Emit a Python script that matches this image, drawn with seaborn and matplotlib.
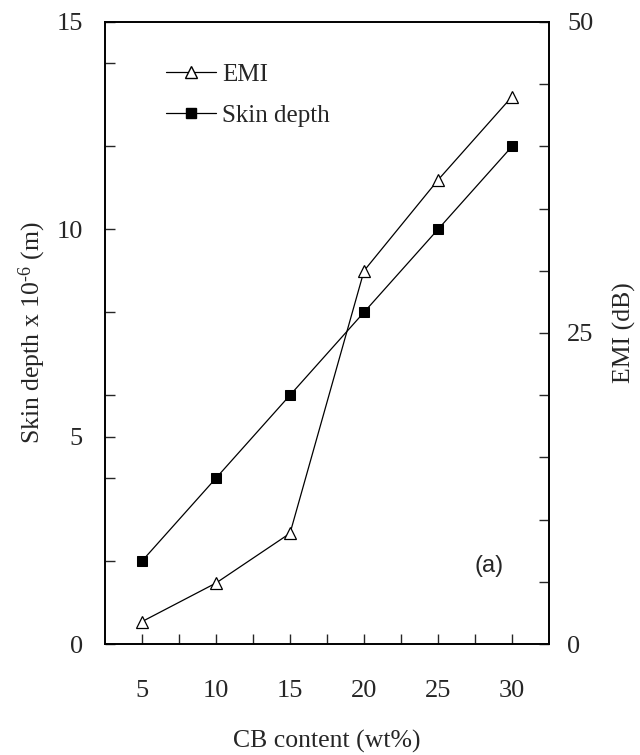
import matplotlib
matplotlib.use("Agg")
import matplotlib.pyplot as plt
import seaborn as sns
import pandas as pd
from matplotlib.lines import Line2D

cb_content = [5, 10, 15, 20, 25, 30]
skin_depth = [2.0, 4.0, 6.0, 8.0, 10.0, 12.0]
emi_db = [1.8, 4.9, 8.9, 30.0, 37.3, 44.0]

x_ticks = [5, 10, 15, 20, 25, 30]
left_labels = [0, 5, 10, 15]
right_labels = [0, 25, 50]

sns.set_style("ticks")
plt.rcParams['font.family'] = ['Liberation Serif', 'DejaVu Serif']
plt.rcParams['mathtext.fontset'] = 'custom'
plt.rcParams['mathtext.rm'] = 'Liberation Serif'
plt.rcParams['mathtext.it'] = 'Liberation Serif:italic'

df = pd.DataFrame({"CB": cb_content, "Skin": skin_depth, "EMI": emi_db})

fig = plt.figure(figsize=(6.4, 7.55), dpi=100)
ax = fig.add_axes([0.164, 0.147, 0.694, 0.824])
ax2 = ax.twinx()

sns.lineplot(data=df, x="CB", y="Skin", ax=ax, color="black", lw=0.9,
             marker="s", markersize=7.5, markerfacecolor="black",
             markeredgecolor="black", legend=False)
sns.lineplot(data=df, x="CB", y="EMI", ax=ax2, color="black", lw=0.9,
             marker="^", markersize=8.5, markerfacecolor="white",
             markeredgecolor="black", markeredgewidth=0.9, legend=False)

ax.set_xlim(2.5, 32.5)
ax.set_ylim(0, 15)
ax2.set_ylim(0, 50)

ax.set_xticks(x_ticks)
ax.set_xticks([7.5, 12.5, 17.5, 22.5, 27.5], minor=True)
ax.set_yticks(left_labels)
ax.set_yticks([2, 4, 6, 8, 12, 14], minor=True)
ax2.set_yticks(right_labels)
ax2.set_yticks([5, 10, 15, 20, 30, 35, 40, 45], minor=True)

ax.tick_params(axis='x', which='both', direction='in', length=7, width=1,
               pad=26, labelsize=19, top=False)
ax.tick_params(axis='y', which='both', direction='in', length=7, width=1,
               pad=16, labelsize=19, right=False)
ax2.tick_params(axis='y', which='both', direction='in', length=7, width=1,
                pad=13, labelsize=19)

for a in (ax, ax2):
    for s in a.spines.values():
        s.set_linewidth(1.2)
        s.set_color("black")

ax.set_xlabel("CB content (wt%)", fontsize=18.5, labelpad=20)
ax.set_ylabel(r"Skin depth x 10$^{\text{-}\mathregular{6}}$ (m)", fontsize=18.5, labelpad=6)
ax2.set_ylabel("EMI (dB)", fontsize=18.5, labelpad=14)

handles = [
    Line2D([], [], color="black", lw=0.9, marker="^", markersize=8,
           markerfacecolor="white", markeredgecolor="black"),
    Line2D([], [], color="black", lw=0.9, marker="s", markersize=7,
           markerfacecolor="black", markeredgecolor="black"),
]
ax2.legend(handles, ["EMI", "Skin depth"], loc="upper left",
           bbox_to_anchor=(0.115, 0.95), frameon=False, fontsize=18,
           handlelength=2.0, handletextpad=0.25, labelspacing=0.75,
           borderaxespad=0)

ax.text(489, 755 - 566, "(a)", transform=None, fontsize=17, family="Liberation Sans",
        ha="center", va="center")

fig.savefig("out.png", dpi=100)
